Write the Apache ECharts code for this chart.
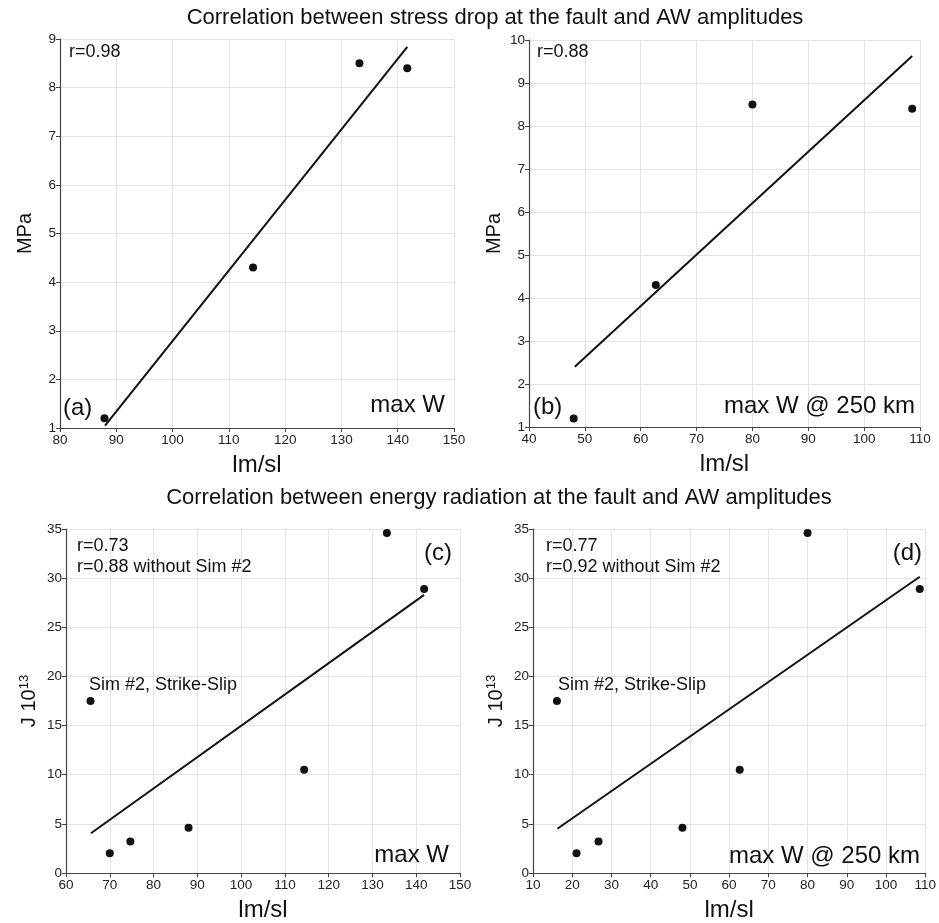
<!DOCTYPE html>
<html><head><meta charset="utf-8">
<script src="https://cdn.jsdelivr.net/npm/echarts@6/dist/echarts.min.js"></script>
<style>html,body{margin:0;padding:0;background:#fff}#c{width:939px;height:923px}</style>
</head><body><div id="c"></div>
<script>
// Panel (a): stress drop vs max W
const aX = [87.9, 114.3, 133.2, 141.7];
const aY = [1.2, 4.3, 8.5, 8.4];
const aFitX = [88.0, 141.7];
const aFitY = [1.05, 8.84];
// Panel (b): stress drop vs max W @ 250 km
const bX = [48.0, 62.7, 80.0, 108.6];
const bY = [1.2, 4.3, 8.5, 8.4];
const bFitX = [48.2, 108.6];
const bFitY = [2.4, 9.63];
// Panel (c): energy vs max W
const cX = [65.6, 70.0, 74.7, 88.0, 114.4, 133.3, 141.8];
const cY = [17.5, 2.0, 3.2, 4.6, 10.5, 34.6, 28.9];
const cFitX = [65.7, 141.8];
const cFitY = [4.05, 28.3];
// Panel (d): energy vs max W @ 250 km
const dX = [16.1, 21.1, 26.7, 48.1, 62.7, 80.0, 108.6];
const dY = [17.5, 2.0, 3.2, 4.6, 10.5, 34.6, 28.9];
const dFitX = [16.2, 108.6];
const dFitY = [4.5, 30.14];

const zip = (xs, ys) => xs.map((x, i) => [x, ys[i]]);
const FONT = 'Liberation Sans';
const axCol = '#444';
function xAx(i, min, max, interval) {
  return {gridIndex: i, type: 'value', min, max, interval,
    name: 'lm/sl', nameLocation: 'middle', nameGap: 25,
    nameTextStyle: {fontFamily: FONT, fontSize: 24, color: '#111'},
    axisLine: {show: true, onZero: false, lineStyle: {color: axCol, width: 1.2}},
    axisTick: {show: true, length: 4, lineStyle: {color: axCol}},
    axisLabel: {fontFamily: FONT, fontSize: 13.5, color: '#222', margin: 5},
    splitLine: {show: true, lineStyle: {color: '#e3e3e3', width: 1}}};
}
function yAx(i, min, max, interval, name) {
  return {gridIndex: i, type: 'value', min, max, interval,
    name, nameLocation: 'middle', nameGap: 25, nameRotate: 90,
    nameTextStyle: {fontFamily: FONT, fontSize: 20, color: '#111',
      rich: {sup: {fontFamily: FONT, fontSize: 13, color: '#111', verticalAlign: 'top', padding: [0,0,10,0]}}},
    axisLine: {show: true, onZero: false, lineStyle: {color: axCol, width: 1.2}},
    axisTick: {show: true, length: 4, lineStyle: {color: axCol}},
    axisLabel: {fontFamily: FONT, fontSize: 13.5, color: '#222', margin: 4},
    splitLine: {show: true, lineStyle: {color: '#e3e3e3', width: 1}}};
}
function sc(i, xs, ys) {
  return {type: 'scatter', xAxisIndex: i, yAxisIndex: i, data: zip(xs, ys),
    symbolSize: 8, itemStyle: {color: '#111', opacity: 1}, z: 5};
}
function ln(i, xs, ys) {
  return {type: 'line', xAxisIndex: i, yAxisIndex: i, data: zip(xs, ys),
    symbol: 'none', lineStyle: {color: '#111', width: 2}, z: 4};
}
function txt(x, y, text, size, align) {
  return {type: 'text', x, y, z: 100, style: {text, fontFamily: FONT, fontSize: size,
    fill: '#111', textAlign: align || 'left', textVerticalAlign: 'middle'}};
}

const chart = echarts.init(document.getElementById('c'), null, {renderer: 'canvas'});
chart.setOption({
  animation: false,
  grid: [
    {left: 60, top: 39, width: 394, height: 389},
    {left: 529, top: 40, width: 391, height: 387},
    {left: 66, top: 529, width: 394, height: 348},
    {left: 533, top: 529, width: 394, height: 348}
  ],
  xAxis: [xAx(0, 80, 150, 10), xAx(1, 40, 110, 10), xAx(2, 60, 150, 10), xAx(3, 10, 110, 10)],
  yAxis: [yAx(0, 1, 9, 1, 'MPa'), yAx(1, 1, 10, 1, 'MPa'),
          yAx(2, 0, 35, 5, 'J 10{sup|13}'), yAx(3, 0, 35, 5, 'J 10{sup|13}')],
  series: [
    ln(0, aFitX, aFitY), sc(0, aX, aY),
    ln(1, bFitX, bFitY), sc(1, bX, bY),
    ln(2, cFitX, cFitY), sc(2, cX, cY),
    ln(3, dFitX, dFitY), sc(3, dX, dY)
  ],
  graphic: [
    txt(495, 18, 'Correlation between stress drop at the fault and AW amplitudes', 22, 'center'),
    txt(499, 498, 'Correlation between energy radiation at the fault and AW amplitudes', 22, 'center'),
    txt(69, 52, 'r=0.98', 18),
    txt(63, 408, '(a)', 24),
    txt(445, 405, 'max W', 24, 'right'),
    txt(537, 52, 'r=0.88', 18),
    txt(533, 407, '(b)', 24),
    txt(915, 406, 'max W @ 250 km', 24, 'right'),
    txt(77, 546, 'r=0.73', 18),
    txt(77, 567, 'r=0.88 without Sim #2', 18),
    txt(452, 553, '(c)', 24, 'right'),
    txt(89, 685, 'Sim #2, Strike-Slip', 18),
    txt(449, 855, 'max W', 24, 'right'),
    txt(546, 546, 'r=0.77', 18),
    txt(546, 567, 'r=0.92 without Sim #2', 18),
    txt(922, 553, '(d)', 24, 'right'),
    txt(558, 685, 'Sim #2, Strike-Slip', 18),
    txt(920, 856, 'max W @ 250 km', 24, 'right')
  ]
});
</script></body></html>
